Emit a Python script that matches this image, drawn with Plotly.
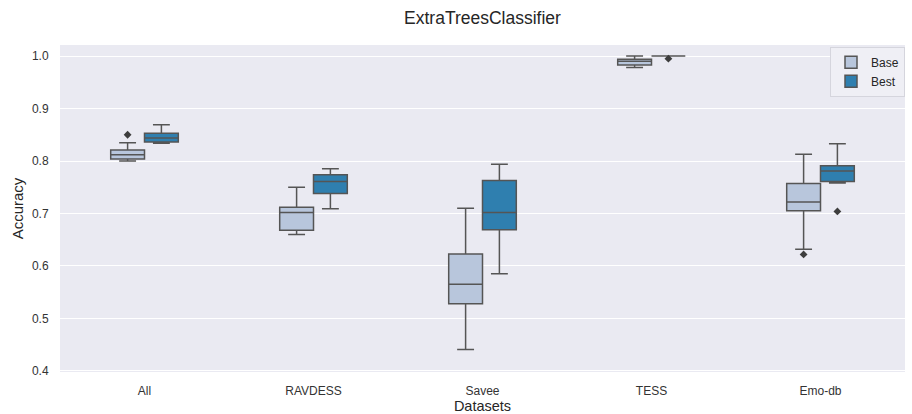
import plotly.graph_objects as go

categories = ["All", "RAVDESS", "Savee", "TESS", "Emo-db"]

# Base series stats
base_lower = [0.800, 0.660, 0.441, 0.978, 0.632]
base_q1 = [0.804, 0.668, 0.528, 0.983, 0.705]
base_median = [0.812, 0.702, 0.565, 0.990, 0.722]
base_q3 = [0.821, 0.712, 0.623, 0.994, 0.757]
base_upper = [0.835, 0.750, 0.710, 1.000, 0.813]
base_out_x = ["All", "Emo-db"]
base_out_y = [0.850, 0.622]

# Best series stats
best_lower = [0.834, 0.709, 0.585, 1.000, 0.758]
best_q1 = [0.836, 0.738, 0.669, 1.000, 0.761]
best_median = [0.844, 0.761, 0.702, 1.000, 0.781]
best_q3 = [0.853, 0.774, 0.763, 1.000, 0.791]
best_upper = [0.869, 0.785, 0.794, 1.000, 0.833]
best_out_x = ["TESS", "Emo-db"]
best_out_y = [0.995, 0.704]

BASE_COLOR = "#B8C6DC"
BEST_COLOR = "#2F7FAF"
LINE_COLOR = "#555555"
FONT = "Liberation Sans, Arial, sans-serif"

fig = go.Figure()

for name, col, lo, q1, med, q3, up in [
    ("Base", BASE_COLOR, base_lower, base_q1, base_median, base_q3, base_upper),
    ("Best", BEST_COLOR, best_lower, best_q1, best_median, best_q3, best_upper),
]:
    fig.add_trace(go.Box(
        name=name, x=categories, q1=q1, median=med, q3=q3,
        lowerfence=lo, upperfence=up,
        fillcolor=col, line=dict(color=LINE_COLOR, width=1.5),
        whiskerwidth=0.5, boxpoints=False, offsetgroup=name,
    ))

for name, ox, oy in [("Base", base_out_x, base_out_y), ("Best", best_out_x, best_out_y)]:
    fig.add_trace(go.Scatter(
        x=ox, y=oy, mode="markers", showlegend=False, offsetgroup=name,
        marker=dict(symbol="diamond", size=6, color="#3d3d3d"),
        hoverinfo="y",
    ))

fig.update_layout(
    width=912, height=414,
    margin=dict(l=60, r=7, t=45, b=42),
    paper_bgcolor="white", plot_bgcolor="#EAEAF2",
    boxmode="group", boxgap=0.6, boxgroupgap=0.0,
    scattermode="group", scattergap=0.6,
    font=dict(family=FONT, size=12, color="#262626"),
    title=dict(text="ExtraTreesClassifier", xref="paper", x=0.5, xanchor="center",
               yref="container", y=0.958, yanchor="middle",
               font=dict(size=17.5, color="#262626")),
    legend=dict(x=1.0, xanchor="right", y=0.995, yanchor="top",
                bgcolor="#EFEFF5", bordercolor="#D5D5DD", borderwidth=1,
                font=dict(size=12), itemwidth=30),
    showlegend=True,
)
fig.update_xaxes(
    title=dict(text="Datasets", font=dict(size=14.5), standoff=0),
    automargin=False,
    showgrid=False, zeroline=False, ticks="outside", ticklen=8,
    tickcolor="rgba(0,0,0,0)", tickfont=dict(size=12, color="#333333"),
    categoryorder="array", categoryarray=categories,
)
fig.update_yaxes(
    title=dict(text="Accuracy", font=dict(size=15), standoff=4),
    automargin=False,
    range=[0.398, 1.021], tickvals=[0.4, 0.5, 0.6, 0.7, 0.8, 0.9, 1.0],
    tickformat=".1f", showgrid=True, gridcolor="white", gridwidth=1.2,
    zeroline=False, ticks="outside", ticklen=8, tickcolor="rgba(0,0,0,0)",
    tickfont=dict(size=12, color="#333333"),
)

fig.write_html(
    "out.html",
    config={"displayModeBar": False},
    post_script="document.body.style.margin='0';document.body.style.overflow='hidden';",
)
